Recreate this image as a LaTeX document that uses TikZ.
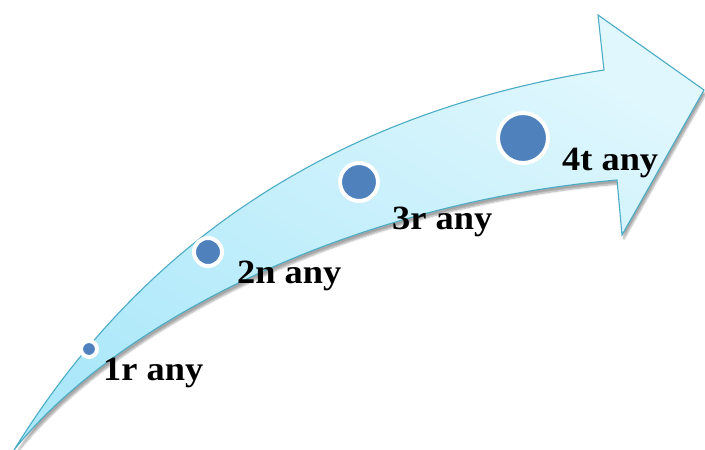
\documentclass[tikz,border=0pt]{standalone}
\usepackage{fontspec}
\setmainfont{Liberation Serif}
\newfontfamily\lblfont[FakeStretch=1.07]{Liberation Serif}
\usepackage{tikz}
\usetikzlibrary{positioning,shadows.blur}

\definecolor{arrowdark}{RGB}{172,232,250}
\definecolor{arrowlight}{RGB}{224,247,253}
\definecolor{arrowedge}{RGB}{75,172,198}
\definecolor{dotblue}{RGB}{79,129,189}

\begin{document}
\begin{tikzpicture}[x=1pt,y=-1pt,
		dot/.style={circle,draw=white,line width=4pt,fill=dotblue,inner sep=0pt},
		lbl/.style={anchor=base west,inner sep=0pt,font=\lblfont\fontsize{34}{38}\selectfont\bfseries}]
			
			\useasboundingbox (0,0) rectangle (705,450);
			
			% curved arrow
			\path[blur shadow={shadow xshift=2pt,shadow yshift=-4pt,shadow blur steps=6,shadow opacity=35},
				left color=arrowlight,right color=arrowdark,shading angle=-30,
				draw=arrowedge,line width=1.1pt,line join=miter]
				(14,450) .. controls (150,230) and (350,110) .. (604,70)
				-- (598,15) -- (704,90) -- (622,235) -- (617,180)
				.. controls (330,205) and (105,335) .. (14,450) -- cycle;
			
			% milestones
			\node[dot,minimum size=16pt] (d1) at (89,349) {};
			\node[dot,minimum size=28pt] (d2) at (208,252) {};
			\node[dot,minimum size=38pt] (d3) at (359,182) {};
			\node[dot,minimum size=50pt] (d4) at (523,138) {};
			
			\node[lbl] (l1) at (103,380) {1r any};
			\node[lbl] (l2) at (237,283) {2n any};
			\node[lbl] (l3) at (392,229) {3r any};
			\node[lbl] (l4) at (562,170) {4t any};
			
		\end{tikzpicture}
\end{document}
